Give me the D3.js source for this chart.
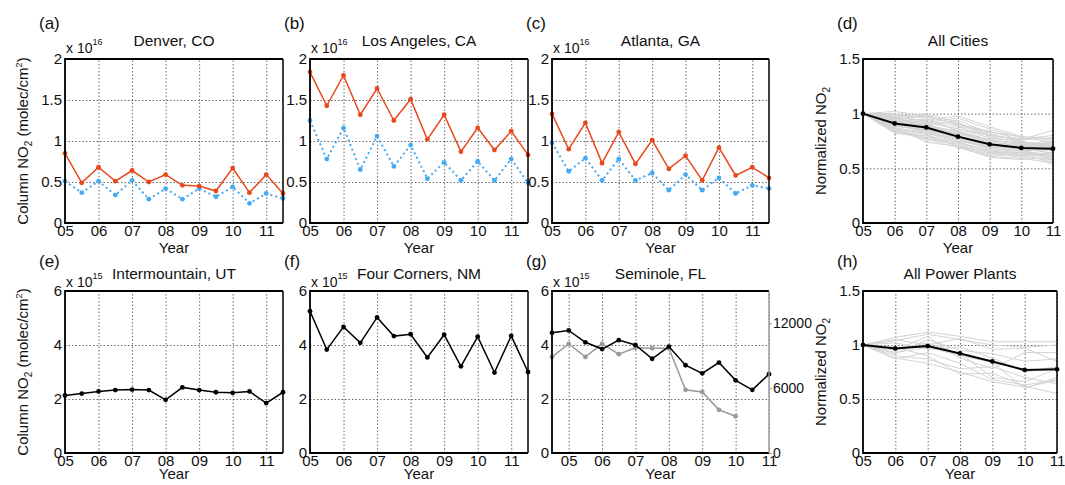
<!DOCTYPE html>
<html>
<head>
<meta charset="utf-8">
<script src="https://cdn.jsdelivr.net/npm/d3@7"></script>
<style>
  body { margin: 0; background: #fff; }
  text { font-family: "Liberation Sans", Arial, sans-serif; fill: #111; }
</style>
</head>
<body>
<svg id="chart" width="1065" height="485"></svg>
<script>
// sample times (years since 2000)
var halfYears = [5, 5.5, 6, 6.5, 7, 7.5, 8, 8.5, 9, 9.5, 10, 10.5, 11, 11.5];
var semHalfYears = [4.5, 5, 5.5, 6, 6.5, 7, 7.5, 8, 8.5, 9, 9.5, 10, 10.5, 11];
var semGrayYears = [4.5, 5, 5.5, 6, 6.5, 7, 7.5, 8, 8.5, 9, 9.5, 10];
var years = [5, 6, 7, 8, 9, 10, 11];
var yearLabels = ["05", "06", "07", "08", "09", "10", "11"];

// cities, column NO2 in 1e16 molec/cm2
var denverRed  = [0.85, 0.49, 0.68, 0.51, 0.64, 0.50, 0.59, 0.46, 0.45, 0.39, 0.67, 0.37, 0.59, 0.36];
var denverBlue = [0.51, 0.37, 0.51, 0.34, 0.52, 0.29, 0.42, 0.29, 0.42, 0.32, 0.44, 0.24, 0.36, 0.30];
var laRed      = [1.84, 1.43, 1.80, 1.32, 1.64, 1.25, 1.51, 1.02, 1.32, 0.87, 1.16, 0.89, 1.12, 0.83];
var laBlue     = [1.25, 0.78, 1.16, 0.65, 1.06, 0.69, 0.95, 0.54, 0.74, 0.52, 0.75, 0.52, 0.78, 0.49];
var atlRed     = [1.33, 0.90, 1.22, 0.73, 1.11, 0.72, 1.01, 0.66, 0.82, 0.52, 0.92, 0.58, 0.68, 0.55];
var atlBlue    = [0.98, 0.63, 0.79, 0.52, 0.78, 0.52, 0.61, 0.40, 0.59, 0.40, 0.55, 0.36, 0.46, 0.42];

// power plants, column NO2 in 1e15 molec/cm2
var intermountain = [2.13, 2.20, 2.28, 2.33, 2.35, 2.33, 1.97, 2.43, 2.33, 2.25, 2.23, 2.28, 1.85, 2.25];
var fourCorners   = [5.25, 3.83, 4.67, 4.08, 5.02, 4.33, 4.40, 3.54, 4.38, 3.21, 4.31, 2.98, 4.34, 3.00];
var seminole      = [4.45, 4.54, 4.10, 3.85, 4.18, 4.00, 3.49, 3.94, 3.25, 2.95, 3.35, 2.69, 2.34, 2.92];
var seminoleEmis  = [8900, 10100, 8900, 10100, 9150, 9750, 9700, 9700, 5850, 5650, 4000, 3400];

// normalized trends
var citiesMean = [1.0, 0.91, 0.874, 0.79, 0.72, 0.687, 0.68];
var citiesAll = [
  [1, 0.95, 0.92, 0.86, 0.78, 0.74, 0.72],
  [1, 0.90, 0.88, 0.80, 0.72, 0.70, 0.68],
  [1, 0.86, 0.82, 0.74, 0.66, 0.63, 0.61],
  [1, 1.02, 0.98, 0.90, 0.84, 0.76, 0.85],
  [1, 0.93, 0.95, 0.88, 0.80, 0.76, 0.78],
  [1, 0.84, 0.78, 0.72, 0.64, 0.60, 0.58],
  [1, 0.88, 0.74, 0.70, 0.62, 0.62, 0.56],
  [1, 0.96, 0.90, 0.94, 0.82, 0.74, 0.70],
  [1, 0.92, 0.86, 0.78, 0.70, 0.68, 0.64],
  [1, 0.98, 0.96, 0.84, 0.76, 0.72, 0.75],
  [1, 0.89, 0.84, 0.76, 0.68, 0.66, 0.53],
  [1, 0.94, 0.88, 0.82, 0.74, 0.70, 0.66],
  [1, 0.82, 0.80, 0.70, 0.60, 0.58, 0.60],
  [1, 1.00, 0.92, 0.96, 0.86, 0.78, 0.74],
  [1, 0.91, 0.89, 0.84, 0.76, 0.72, 0.70],
  [1, 0.87, 0.83, 0.75, 0.69, 0.64, 0.62],
  [1, 0.97, 0.93, 0.86, 0.80, 0.77, 0.80],
  [1, 0.85, 0.76, 0.73, 0.66, 0.61, 0.65],
  [1, 0.93, 0.91, 0.80, 0.73, 0.67, 0.57],
  [1, 0.90, 0.85, 0.78, 0.71, 0.69, 0.72],
  [1, 0.99, 0.97, 0.91, 0.81, 0.75, 0.68],
  [1, 0.86, 0.81, 0.71, 0.63, 0.65, 0.63],
  [1, 0.94, 1.00, 0.92, 0.79, 0.73, 0.71],
  [1, 0.89, 0.87, 0.82, 0.74, 0.71, 0.73],
  [1, 0.91, 0.83, 0.77, 0.67, 0.64, 0.59],
  [1, 0.96, 0.94, 0.98, 0.88, 0.79, 0.77],
  [1, 0.88, 0.86, 0.79, 0.70, 0.66, 0.67],
  [1, 0.92, 0.90, 0.83, 0.75, 0.73, 0.62],
  [1, 0.85, 0.79, 0.74, 0.65, 0.62, 0.64],
  [1, 0.95, 0.89, 0.81, 0.77, 0.71, 0.69],
  [1, 0.83, 0.77, 0.69, 0.61, 0.59, 0.55],
  [1, 0.97, 0.99, 0.89, 0.83, 0.79, 0.76],
  [1, 0.90, 0.84, 0.80, 0.72, 0.67, 0.60],
  [1, 0.93, 0.87, 0.77, 0.69, 0.70, 0.74]
];
var plantsMean = [1.0, 0.968, 0.99, 0.922, 0.848, 0.769, 0.775];
var plantsAll = [
  [1, 1.07, 1.12, 1.08, 1.03, 1.03, 1.03],
  [1, 1.04, 1.10, 1.05, 1.00, 0.98, 1.00],
  [1, 0.88, 0.83, 0.75, 0.66, 0.61, 0.67],
  [1, 0.92, 1.05, 0.95, 0.92, 0.85, 0.87],
  [1, 0.98, 0.90, 0.73, 0.74, 0.62, 0.55],
  [1, 1.02, 0.96, 0.98, 0.88, 0.75, 0.80],
  [1, 0.87, 0.93, 0.83, 0.68, 0.63, 0.68],
  [1, 0.95, 1.08, 0.88, 0.78, 0.93, 0.93],
  [1, 0.90, 0.87, 0.78, 0.80, 0.70, 0.64],
  [1, 1.05, 1.00, 1.06, 0.96, 0.97, 0.85],
  [1, 0.93, 0.98, 0.90, 0.84, 0.60, 0.70],
  [1, 0.96, 1.02, 0.92, 0.70, 0.66, 0.78]
];

var RED = "#e8481c", BLUE = "#45aaf2", LIGHT = "#d4d4d4", SEMGRAY = "#9a9a9a";

var svg = d3.select("#chart");

function line(xs, ys, color, opts) {
  return { x: xs, y: ys, color: color, dash: opts && opts.dash, marker: !(opts && opts.noMarker), width: (opts && opts.width) || 1.5, right: opts && opts.right };
}

var panels = [
  { tag: "(a)", title: "Denver, CO", box: [65, 283, 59, 223], row: 0, xDom: [5, 11.5], yDom: [0, 2], yTicks: [0, 0.5, 1, 1.5, 2], expo: "16", ylab: "col",
    lines: [line(halfYears, denverBlue, BLUE, { dash: "2,3", width: 2 }), line(halfYears, denverRed, RED)] },
  { tag: "(b)", title: "Los Angeles, CA", box: [310, 528, 59, 223], row: 0, xDom: [5, 11.5], yDom: [0, 2], yTicks: [0, 0.5, 1, 1.5, 2], expo: "16",
    lines: [line(halfYears, laBlue, BLUE, { dash: "2,3", width: 2 }), line(halfYears, laRed, RED)] },
  { tag: "(c)", title: "Atlanta, GA", box: [552, 769, 59, 223], row: 0, xDom: [5, 11.5], yDom: [0, 2], yTicks: [0, 0.5, 1, 1.5, 2], expo: "16",
    lines: [line(halfYears, atlBlue, BLUE, { dash: "2,3", width: 2 }), line(halfYears, atlRed, RED)] },
  { tag: "(d)", title: "All Cities", box: [863, 1053, 59, 223], row: 0, xDom: [5, 11], yDom: [0, 1.5], yTicks: [0, 0.5, 1, 1.5], ylab: "norm",
    lines: citiesAll.map(function (c) { return line(years, c, LIGHT, { noMarker: true, width: 1 }); })
      .concat([line(years, citiesMean, "#000", { width: 2 })]) },
  { tag: "(e)", title: "Intermountain, UT", box: [65, 283, 291, 453], row: 1, xDom: [5, 11.5], yDom: [0, 6], yTicks: [0, 2, 4, 6], expo: "15", ylab: "col",
    lines: [line(halfYears, intermountain, "#000")] },
  { tag: "(f)", title: "Four Corners, NM", box: [310, 528, 291, 453], row: 1, xDom: [5, 11.5], yDom: [0, 6], yTicks: [0, 2, 4, 6], expo: "15",
    lines: [line(halfYears, fourCorners, "#000")] },
  { tag: "(g)", title: "Seminole, FL", box: [552, 769, 291, 453], row: 1, xDom: [4.5, 11], yDom: [0, 6], yTicks: [0, 2, 4, 6], expo: "15", right: true,
    lines: [line(semGrayYears, seminoleEmis, SEMGRAY, { right: true }), line(semHalfYears, seminole, "#000")] },
  { tag: "(h)", title: "All Power Plants", box: [863, 1057, 291, 453], row: 1, xDom: [5, 11], yDom: [0, 1.5], yTicks: [0, 0.5, 1, 1.5], ylab: "norm",
    lines: plantsAll.map(function (c) { return line(years, c, LIGHT, { noMarker: true, width: 1 }); })
      .concat([line(years, plantsMean, "#000", { width: 2 })]) }
];

var rowText = [
  { tag: 29, title: 46, expo: 53, tick: 2, year: 253 },
  { tag: 267, title: 279, expo: 287, tick: 2, year: 479 }
];

panels.forEach(function (p) {
  var L = p.box[0], R = p.box[1], T = p.box[2], B = p.box[3];
  var rt = rowText[p.row];
  var x = d3.scaleLinear().domain(p.xDom).range([L, R]);
  var y = d3.scaleLinear().domain(p.yDom).range([B, T]);
  var y2 = d3.scaleLinear().domain([0, 15000]).range([B, T]);
  var g = svg.append("g");

  // dotted grid
  g.append("g").attr("transform", "translate(0," + B + ")")
    .call(d3.axisBottom(x).tickValues(years).tickSize(-(B - T)).tickFormat(""))
    .call(function (a) { a.select(".domain").remove(); })
    .selectAll("line").attr("stroke", "#444").attr("stroke-dasharray", "1.5,2").attr("stroke-width", 0.8);
  g.append("g").attr("transform", "translate(" + L + ",0)")
    .call(d3.axisLeft(y).tickValues(p.yTicks).tickSize(-(R - L)).tickFormat(""))
    .call(function (a) { a.select(".domain").remove(); })
    .selectAll("line").attr("stroke", "#444").attr("stroke-dasharray", "1.5,2").attr("stroke-width", 0.8);

  // data lines
  p.lines.forEach(function (s) {
    var ys = s.right ? y2 : y;
    var pts = s.x.map(function (v, i) { return [v, s.y[i]]; });
    g.append("path").datum(pts)
      .attr("fill", "none").attr("stroke", s.color).attr("stroke-width", s.width)
      .attr("stroke-dasharray", s.dash || null)
      .attr("d", d3.line().x(function (d) { return x(d[0]); }).y(function (d) { return ys(d[1]); }));
    if (s.marker) {
      g.append("g").selectAll("circle").data(pts).enter().append("circle")
        .attr("cx", function (d) { return x(d[0]); })
        .attr("cy", function (d) { return ys(d[1]); })
        .attr("r", 2.4).attr("fill", s.color);
    }
  });

  // frame
  g.append("path").attr("fill", "none").attr("stroke", "#000").attr("stroke-width", 1.8)
    .attr("d", "M" + R + "," + T + "H" + L + "V" + B + "H" + R);
  g.append("line").attr("x1", R).attr("x2", R).attr("y1", T).attr("y2", B)
    .attr("stroke", p.right ? SEMGRAY : "#000").attr("stroke-width", 1.5);

  // tick labels
  var fmtY = d3.format("~g");
  g.append("g").attr("transform", "translate(" + L + ",0)")
    .call(d3.axisLeft(y).tickValues(p.yTicks).tickSize(0).tickPadding(3).tickFormat(fmtY))
    .call(function (a) { a.select(".domain").remove(); })
    .selectAll("text").attr("font-size", 15).attr("fill", "#111")
    .attr("font-family", "Liberation Sans, Arial, sans-serif");
  g.append("g").attr("transform", "translate(0," + B + ")")
    .call(d3.axisBottom(x).tickValues(years).tickSize(0).tickPadding(rt.tick)
      .tickFormat(function (d, i) { return yearLabels[i]; }))
    .call(function (a) { a.select(".domain").remove(); })
    .selectAll("text").attr("font-size", 15).attr("fill", "#111")
    .attr("font-family", "Liberation Sans, Arial, sans-serif");

  if (p.right) {
    var ax = g.append("g").attr("transform", "translate(" + R + ",0)")
      .call(d3.axisRight(y2).tickValues([0, 6000, 12000]).tickSize(3).tickPadding(1).tickFormat(d3.format("d")));
    ax.select(".domain").remove();
    ax.selectAll("line").attr("stroke", SEMGRAY);
    ax.selectAll("text").attr("font-size", 14).attr("fill", SEMGRAY)
      .attr("font-family", "Liberation Sans, Arial, sans-serif");
  }

  // labels
  g.append("text").attr("x", L - 26).attr("y", rt.tag).attr("font-size", 17).text(p.tag);
  g.append("text").attr("x", (L + R) / 2).attr("y", rt.title).attr("text-anchor", "middle")
    .attr("font-size", 15.5).text(p.title);
  g.append("text").attr("x", (L + R) / 2).attr("y", rt.year).attr("text-anchor", "middle")
    .attr("font-size", 15).text("Year");
  if (p.expo) {
    var ex = g.append("text").attr("x", L + 1).attr("y", rt.expo).attr("font-size", 14);
    ex.append("tspan").text("x 10");
    ex.append("tspan").attr("dy", -8).attr("font-size", 9).text(p.expo);
  }
  if (p.ylab) {
    var cx = p.ylab === "col" ? 28 : L - 37;
    var t = g.append("text").attr("transform", "translate(" + cx + "," + (T + B) / 2 + ") rotate(-90)")
      .attr("text-anchor", "middle").attr("font-size", 15);
    if (p.ylab === "col") {
      t.append("tspan").text("Column NO");
      t.append("tspan").attr("font-size", 10).attr("dy", 4).text("2");
      t.append("tspan").attr("dy", -4).text(" (molec/cm");
      t.append("tspan").attr("font-size", 9).attr("dy", -6).text("2");
      t.append("tspan").attr("dy", 6).text(")");
    } else {
      t.append("tspan").text("Normalized NO");
      t.append("tspan").attr("font-size", 10).attr("dy", 4).text("2");
    }
  }
});
</script>
</body>
</html>
